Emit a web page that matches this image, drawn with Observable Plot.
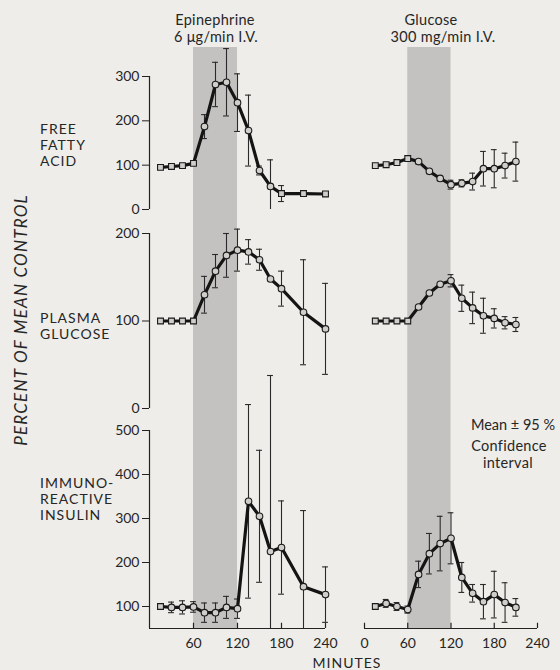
<!DOCTYPE html>
<html><head><meta charset="utf-8">
<script src="https://cdn.jsdelivr.net/npm/d3@7"></script>
<script src="https://cdn.jsdelivr.net/npm/@observablehq/plot@0.6"></script>
<style>
html,body{margin:0;padding:0;background:#eeede9;}
#fig{position:relative;width:560px;height:670px;background:#eeede9;font-family:Lato,"DejaVu Sans",sans-serif;color:#262626;overflow:hidden}
#fig svg{position:absolute;}
.t{position:absolute;white-space:nowrap;line-height:1;}
</style></head><body><div id="fig"></div>
<script>
// ---- data ----
const minutesLeft  = [15,30,45,60,75,90,105,120,135,150,165,180,210,240];
const minutesRight = [15,30,45,60,75,90,105,120,135,150,165,180,195,210];
const infusionWindow = [60,120];

const ffaEpinephrine   = [95,97,99,104,187,282,287,241,178,88,52,36,36,35];
const ffaEpinephrineCI = [0,0,0,0,27,50,76,65,80,10,60,18,0,0];
const ffaGlucose       = [99,101,106,115,108,86,70,56,59,63,92,92,99,108];
const ffaGlucoseCI     = [0,0,0,0,5,5,5,10,8,19,39,43,28,44];

const gluEpinephrine   = [100,100,100,100,130,157,175,181,179,170,148,137,110,91];
const gluEpinephrineCI = [0,0,0,0,21,19,25,24,14,12,0,20,60,52];
const gluGlucose       = [100,100,100,100,116,132,142,146,126,115,106,103,98,96];
const gluGlucoseCI     = [0,0,0,0,0,0,0,7,15,18,20,11,7,8];

const insEpinephrine   = [100,98,98,99,86,86,98,95,339,305,225,234,145,127];
const insEpinephrineCI = [0,12,15,12,22,22,25,22,220,150,400,106,173,63];
const insGlucose       = [100,107,100,93,173,220,243,255,166,130,111,127,109,98];
const insGlucoseCI     = [0,9,9,8,30,46,62,58,34,20,39,53,45,20];

const ffaTicks = [0,100,200,300];
const gluTicks = [0,100,200];
const insTicks = [100,200,300,400,500];
const xTicksLeft  = [60,120,180,240];
const xTicksRight = [0,60,120,180,240];

// ---- layout ----
const fig = document.getElementById("fig");
const cols = {
  left:  {left:100, width:240, ml:49, mr:15},
  right: {left:320, width:240, ml:44, mr:23}
};
const rows = {
  ffa: {top:47,  height:174, mb:0,  domain:[0,300],  range:[162,29], ticks:ffaTicks},
  glu: {top:221, height:198, mb:0,  domain:[0,200],  range:[187,12], ticks:gluTicks},
  ins: {top:419, height:239, mb:30, domain:[50,500], range:[209,11], ticks:insTicks}
};

function panel(rowKey, colKey, times, mean, ci, isSquare) {
  const r = rows[rowKey], c = cols[colKey];
  const lo = r.domain[0];
  const data = times.map((t,i)=>({t, v:mean[i], ci:ci[i], sq:isSquare(t)}));
  const bars = data.filter(d=>d.ci>0).map(d=>({t:d.t, hi:d.v+d.ci, lo:Math.max(lo, d.v-d.ci), clipped:d.v-d.ci<lo}));
  const marks = [
    Plot.rect([infusionWindow], {x1:d=>d[0], x2:d=>d[1], fill:"#c3c2c0"}),
    Plot.ruleX(bars, {x:"t", y1:"lo", y2:"hi", stroke:"#2a2a2a", strokeWidth:1.1}),
    Plot.ruleY(bars, {y:"hi", x1:d=>d.t-4, x2:d=>d.t+4, stroke:"#2a2a2a", strokeWidth:1.1}),
    Plot.ruleY(bars.filter(d=>!d.clipped), {y:"lo", x1:d=>d.t-4, x2:d=>d.t+4, stroke:"#2a2a2a", strokeWidth:1.1}),
    Plot.line(data, {x:"t", y:"v", stroke:"#141414", strokeWidth:3.2, strokeLinejoin:"round"}),
    Plot.dot(data.filter(d=>!d.sq), {x:"t", y:"v", r:3.3, fill:"#cfcecb", stroke:"#1a1a1a", strokeWidth:1.1}),
    Plot.dot(data.filter(d=>d.sq), {x:"t", y:"v", r:3.3, symbol:"square", fill:"#cfcecb", stroke:"#1a1a1a", strokeWidth:1.1})
  ];
  let xAxis = null, yAxis = null;
  if (colKey === "left") {
    yAxis = true;
    marks.push(Plot.ruleX([0], {y1:r.domain[0], y2:r.domain[1], stroke:"#222", strokeWidth:1.2}));
    marks.push(Plot.axisY({ticks:r.ticks, tickSize:7, tickPadding:3, fontSize:14, label:null, stroke:"#222"}));
  }
  if (rowKey === "ins") {
    xAxis = true;
    const xt = colKey === "left" ? xTicksLeft : xTicksRight;
    marks.push(Plot.ruleY([lo], {x1:0, x2:240, stroke:"#222", strokeWidth:1.2}));
    marks.push(Plot.ruleX(xt, {x:d=>d, y1:lo, y2:lo+12, stroke:"#222", strokeWidth:1.2}));
    marks.push(Plot.axisX({ticks:xt, tickSize:0, tickPadding:10, fontSize:14, label:null}));
  }
  const svg = Plot.plot({
    width:c.width, height:r.height,
    marginLeft:c.ml, marginRight:c.mr, marginTop:0, marginBottom:r.mb,
    x:{domain:[0,240], ...(xAxis ? {} : {axis:null})},
    y:{domain:r.domain, range:r.range, ...(yAxis ? {} : {axis:null})},
    style:{background:"transparent", overflow:"visible", fontFamily:"Lato, 'DejaVu Sans', sans-serif", fontSize:"14px", color:"#262626"},
    marks
  });
  svg.style.left = c.left + "px";
  svg.style.top = r.top + "px";
  svg.style.position = "absolute";
  fig.appendChild(svg);
}

const base = t => t <= 60;
panel("ffa","left",  minutesLeft,  ffaEpinephrine, ffaEpinephrineCI, t => t<=60 || t>=180);
panel("ffa","right", minutesRight, ffaGlucose, ffaGlucoseCI, base);
panel("glu","left",  minutesLeft,  gluEpinephrine, gluEpinephrineCI, base);
panel("glu","right", minutesRight, gluGlucose, gluGlucoseCI, base);
panel("ins","left",  minutesLeft,  insEpinephrine, insEpinephrineCI, t => t===15);
panel("ins","right", minutesRight, insGlucose, insGlucoseCI, t => t===15);

// ---- text ----
function text(str, x, y, opts={}) {
  const d = document.createElement("div");
  d.className = "t";
  d.textContent = str;
  d.style.left = x + "px";
  d.style.top = y + "px";
  d.style.fontSize = (opts.size || 14) + "px";
  if (opts.ls) d.style.letterSpacing = opts.ls + "px";
  if (opts.italic) d.style.fontStyle = "italic";
  d.style.transform = opts.transform || (opts.anchor === "start" ? "translate(0,-50%)" : "translate(-50%,-50%)");
  fig.appendChild(d);
}
text("Epinephrine", 215, 20, {size:14.5, ls:0.3});
text("6 \u03bcg/min I.V.", 216, 37, {size:14.5, ls:0.3});
text("Glucose", 431, 20, {size:14.5, ls:0.3});
text("300 mg/min I.V.", 443, 37, {size:14.5, ls:0.3});

text("FREE", 40, 129, {anchor:"start", ls:1});
text("FATTY", 40, 145, {anchor:"start", ls:1});
text("ACID", 40, 161, {anchor:"start", ls:1});
text("PLASMA", 40, 318, {anchor:"start", ls:1});
text("GLUCOSE", 40, 334, {anchor:"start", ls:1});
text("IMMUNO-", 40, 483, {anchor:"start", ls:1});
text("REACTIVE", 40, 499, {anchor:"start", ls:1});
text("INSULIN", 40, 515, {anchor:"start", ls:1});

text("PERCENT OF MEAN CONTROL", 20, 320, {size:17, ls:1.2, italic:true, transform:"translate(-50%,-50%) rotate(-90deg)"});

text("Mean \u00b1 95 %", 513, 425, {size:14.5});
text("Confidence", 509, 446, {size:14.5, ls:0.3});
text("interval", 508, 463, {size:14.5, ls:0.3});

text("MINUTES", 347, 663, {size:14, ls:1});
</script></body></html>
